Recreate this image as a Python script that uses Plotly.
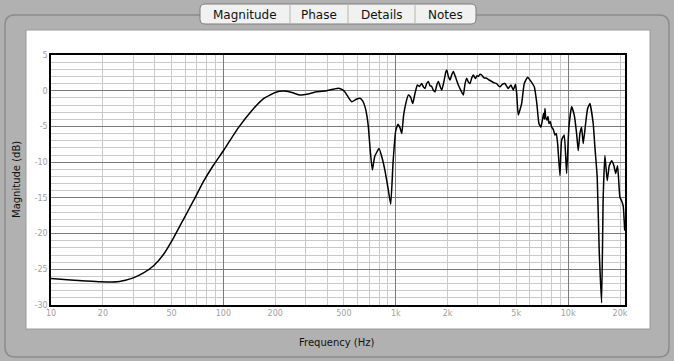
import plotly.graph_objects as go

# ---- data ----
freq_hz = [10, 13, 16, 19.3, 25, 30, 34.4, 39.4, 45, 51.4, 58.7, 67.1, 76.7, 87.7, 100, 107, 122, 146, 171, 200,
           223, 250, 279, 310, 348, 398, 440, 465, 490, 508, 530, 556, 590, 621, 645, 664, 680, 694, 712, 732,
           755, 800, 835, 866, 900, 935, 965, 1000, 1030, 1059, 1084, 1110, 1143, 1184, 1220, 1255, 1295, 1335,
           1375, 1415, 1450, 1479, 1510, 1546, 1580, 1617, 1650, 1690, 1730, 1767, 1810, 1849, 1900, 1950, 1977,
           2020, 2066, 2110, 2159, 2230, 2308, 2390, 2467, 2520, 2580, 2640, 2697, 2760, 2820, 2900, 2960, 3015,
           3080, 3152, 3250, 3368, 3480, 3600, 3720, 3849, 3940, 4024, 4150, 4301, 4496, 4660, 4806, 4950, 5032,
           5136, 5375, 5567, 5825, 6086, 6362, 6568, 6771, 6955, 7115, 7200, 7280, 7339, 7420, 7538, 7640, 7741,
           7880, 8024, 8200, 8384, 8540, 8693, 8966, 9170, 9493, 9801, 10107, 10478, 10850, 11202, 11444, 11705,
           11975, 12233, 12632, 12974, 13380, 13982, 14303, 14749, 15148, 15641, 15979, 16345, 16857, 17320,
           17883, 18440, 18866, 19364, 19966, 20425, 20867, 21300]
magnitude_db = [-26.3, -26.5, -26.65, -26.76, -26.7, -26.2, -25.5, -24.5, -22.9, -20.6, -18.0, -15.4, -12.7, -10.4,
                -8.4, -7.3, -5.2, -2.8, -1.1, -0.25, -0.05, -0.25, -0.6, -0.45, -0.15, 0.0, 0.25, 0.35, 0.15, -0.2,
                -0.9, -1.55, -1.2, -1.05, -1.5, -2.3, -3.5, -5.1, -8.5, -11.1, -9.2, -8.1, -9.5, -11.2, -13.5, -15.9,
                -10.0, -5.6, -4.7, -5.2, -6.0, -3.5, -1.8, -0.6, -0.9, -1.8, -0.3, 0.8, 0.6, 1.0, 0.5, 0.3, 1.0, 1.3,
                0.7, 0.6, 0.1, -0.15, 0.8, 1.3, 0.6, 0.1, 1.2, 2.6, 2.9, 2.0, 1.5, 2.2, 2.7, 1.8, 0.8, 0.0, -0.6, 0.9,
                1.75, 1.2, 1.0, 1.8, 2.2, 1.7, 2.1, 2.0, 2.3, 2.2, 1.8, 1.75, 1.5, 1.3, 1.1, 1.0, 0.7, 0.55, 0.9, 1.0,
                0.3, 0.8, 0.1, 0.9, -0.4, -3.4, -1.8, 1.0, 1.9, 1.3, 0.56, -1.55, -4.6, -5.1, -3.9, -3.2, -4.0, -2.5,
                -3.8, -4.1, -3.6, -4.6, -4.3, -5.1, -5.4, -6.2, -6.0, -7.4, -11.9, -6.9, -6.2, -11.6, -5.1, -2.25,
                -3.4, -6.0, -8.4, -6.0, -5.1, -7.4, -4.6, -2.5, -1.8, -4.6, -7.9, -12.1, -22.4, -29.7, -14.9, -9.06,
                -12.6, -10.5, -9.8, -10.5, -11.6, -10.5, -14.9, -15.4, -16.1, -19.6]

x_tick_vals = [10, 20, 50, 100, 200, 500, 1000, 2000, 5000, 10000, 20000]
x_tick_text = ["10", "20", "50", "100", "200", "500", "1k", "2k", "5k", "10k", "20k"]
x_decades = [10, 100, 1000, 10000]
x_minor = [m * d for d in [10, 100, 1000, 10000] for m in range(2, 10) if m * d <= 22000 and m * d not in x_tick_vals]
y_tick_vals = [5, 0, -5, -10, -15, -20, -25, -30]
y_tick_text = ["5", "0", "-5", "-10", "-15", "-20", "-25", "-30"]
tab_labels = ["Magnitude", "Phase", "Details", "Notes"]

# ---- layout geometry (pixels) ----
W, H = 674, 361
ML, MR, MT, MB = 51, 49, 55, 56
PW, PH = W - ML - MR, H - MT - MB


def px(x):
    return (x - ML) / PW


def py(y):
    return (H - MB - y) / PH


def rrect(x0, y0, x1, y1, r):
    rx, ry = r / PW, r / PH
    a, b, c, d = px(x0), py(y1), px(x1), py(y0)
    return (f"M {a+rx},{b} L {c-rx},{b} Q {c},{b} {c},{b+ry} L {c},{d-ry} Q {c},{d} {c-rx},{d} "
            f"L {a+rx},{d} Q {a},{d} {a},{d-ry} L {a},{b+ry} Q {a},{b} {a+rx},{b} Z")


fig = go.Figure()
fig.add_trace(go.Scatter(x=[], y=[], xaxis="x", yaxis="y", showlegend=False, hoverinfo="skip"))
fig.add_trace(go.Scatter(x=freq_hz, y=magnitude_db, xaxis="x2", yaxis="y", mode="lines",
                         line=dict(color="#000000", width=1.5, shape="spline", smoothing=0.4),
                         showlegend=False))

grid_light = "#c9c9c9"
grid_dark = "#7a7a7a"
xr = [1, 4.33]

shapes = [
    # outer frame
    dict(type="path", xref="paper", yref="paper", path=rrect(5, 15, 669, 357, 10),
         line=dict(color="#8c8c8c", width=1.5), fillcolor="rgba(0,0,0,0)", layer="below"),
    # white panel
    dict(type="rect", xref="paper", yref="paper", x0=px(26), x1=px(650), y0=py(329), y1=py(30),
         line=dict(color="#9a9a9a", width=1), fillcolor="#ffffff", layer="below"),
    # tab bar
    dict(type="path", xref="paper", yref="paper", path=rrect(200, 4, 476, 24, 5),
         line=dict(color="#7d7d7d", width=1), fillcolor="#f1f1f1", layer="above"),
]
for xd in [290, 348, 415]:
    shapes.append(dict(type="line", xref="paper", yref="paper", x0=px(xd), x1=px(xd), y0=py(23), y1=py(5),
                       line=dict(color="#b5b5b5", width=1)))

annotations = []
for lab, cx in zip(tab_labels, [245, 319, 381.5, 445.5]):
    annotations.append(dict(text=lab, x=px(cx), y=py(14.5), xref="paper", yref="paper", showarrow=False,
                            xanchor="center", yanchor="middle",
                            font=dict(family="DejaVu Sans", size=12, color="#111111")))
annotations.append(dict(text="Magnitude (dB)", x=px(16), y=py(180), xref="paper", yref="paper",
                        showarrow=False, textangle=-90, xanchor="center", yanchor="middle",
                        font=dict(family="DejaVu Sans", size=10, color="#111111")))
annotations.append(dict(text="Frequency (Hz)", x=px(337), y=py(342), xref="paper", yref="paper",
                        showarrow=False, xanchor="center", yanchor="middle",
                        font=dict(family="DejaVu Sans", size=10, color="#111111")))

fig.update_layout(
    width=W, height=H,
    margin=dict(l=ML, r=MR, t=MT, b=MB, autoexpand=False),
    paper_bgcolor="#b1b1b1",
    plot_bgcolor="#ffffff",
    showlegend=False,
    shapes=shapes,
    annotations=annotations,
    xaxis=dict(type="log", range=xr, tickmode="array", tickvals=x_tick_vals, ticktext=x_tick_text,
               showgrid=True, gridcolor=grid_light, gridwidth=1, zeroline=False,
               showline=True, linecolor="#000000", linewidth=1.5, mirror=True, ticks="",
               tickfont=dict(family="DejaVu Sans", size=8, color="#a0a0a0"),
               minor=dict(tickmode="array", tickvals=x_minor, showgrid=True, gridcolor=grid_light, gridwidth=1,
                          ticks="")),
    xaxis2=dict(type="log", range=xr, overlaying="x", anchor="y", side="bottom", tickmode="array",
                tickvals=x_decades, showticklabels=False, showgrid=True, gridcolor=grid_dark, gridwidth=1,
                zeroline=False, ticks="", showline=False),
    yaxis=dict(range=[-30, 5], tickmode="array", tickvals=y_tick_vals, ticktext=y_tick_text,
               showgrid=True, gridcolor=grid_dark, gridwidth=1, zeroline=False,
               showline=True, linecolor="#000000", linewidth=1.5, mirror=True, ticks="",
               tickfont=dict(family="DejaVu Sans", size=8, color="#a0a0a0"),
               minor=dict(dtick=1, showgrid=True, gridcolor=grid_light, gridwidth=1, ticks="")),
)

fig.write_html("out.html", config={"displayModeBar": False},
               post_script="document.body.style.margin='0px';document.body.style.overflow='hidden';"
                           "document.body.style.background='#b1b1b1';")
